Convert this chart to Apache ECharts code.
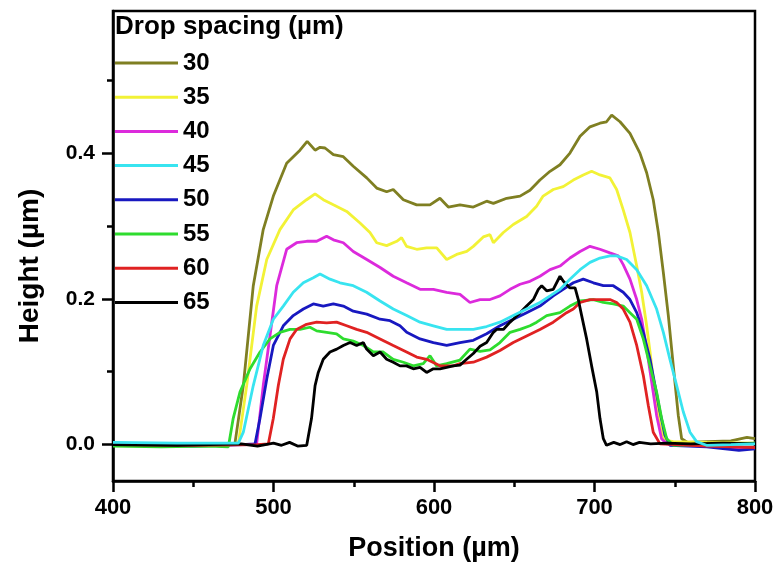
<!DOCTYPE html>
<html>
<head>
<meta charset="utf-8">
<script src="https://cdn.jsdelivr.net/npm/echarts@6/dist/echarts.min.js"></script>
<style>
html,body{margin:0;padding:0;background:#fff;}
#chart{width:777px;height:567px;}
</style>
</head>
<body>
<div id="chart"></div>
<script>
// ---- data (Position µm, Height µm) ----
const legendTitle = "Drop spacing (µm)";
const spacings = ["30", "35", "40", "45", "50", "55", "60", "65"];
const colors = ["#7f7f22", "#f2f236", "#dc2adc", "#38e4f0", "#1818c0", "#2edc2e", "#e02222", "#000000"];
const xTicks = [400, 500, 600, 700, 800];
const yMajorTicks = [0.0, 0.2, 0.4];
const yMinorTicks = [0.1, 0.3, 0.5];

const ds30 = [[400,0.002],[430,0.001],[460,0.0],[474,0.0],[476,0.002],[481.2,0.081],[487.4,0.218],[493.6,0.295],[499.9,0.341],[508.2,0.386],[516.5,0.404],[521,0.416],[525.9,0.404],[529,0.408],[532.1,0.407],[537.3,0.398],[543.5,0.395],[549.7,0.382],[558.1,0.366],[564.3,0.352],[570.5,0.347],[574.6,0.350],[580.9,0.336],[589.2,0.329],[597.5,0.329],[603.7,0.338],[608.9,0.326],[616.2,0.329],[624.5,0.326],[632.8,0.334],[637,0.331],[645.3,0.338],[653.6,0.341],[659.8,0.349],[666,0.363],[672.3,0.375],[678.5,0.384],[684.7,0.400],[691,0.423],[697.2,0.436],[703.4,0.441],[707.5,0.443],[710.7,0.452],[715.9,0.443],[722.1,0.427],[728.3,0.400],[732.5,0.373],[736.6,0.336],[739.8,0.291],[742.9,0.236],[746,0.177],[749.1,0.108],[752.2,0.040],[754.3,0.008],[758,0.003],[770,0.004],[785,0.005],[795,0.010],[800,0.008]];
const ds35 = [[400,0.001],[440,0.0],[470,0.001],[478.1,0.001],[483.3,0.081],[489.5,0.190],[495.8,0.254],[504,0.295],[512.3,0.322],[520.6,0.336],[525.9,0.344],[531,0.336],[537.3,0.329],[545.6,0.320],[553.9,0.304],[560.1,0.291],[564.3,0.277],[570.5,0.273],[576.8,0.279],[579.8,0.284],[582.9,0.272],[589.2,0.268],[595.4,0.270],[601.7,0.270],[607.9,0.254],[614.1,0.261],[620.4,0.265],[624.5,0.272],[630.7,0.285],[634.9,0.288],[637,0.277],[643.2,0.291],[649.4,0.302],[657.7,0.313],[663.9,0.327],[668,0.341],[674.3,0.350],[680.5,0.354],[686.8,0.363],[693,0.370],[698.2,0.375],[703.4,0.370],[709.6,0.366],[713.8,0.350],[717.9,0.322],[722.1,0.291],[726.3,0.245],[729.4,0.209],[732.5,0.163],[734.6,0.127],[736.6,0.090],[738.7,0.054],[740.8,0.026],[743.9,0.006],[749,0.004],[770,0.003],[800,0.002]];
const ds40 = [[400,0.0],[450,-0.001],[485,0.0],[489.5,0.001],[493.6,0.081],[497.8,0.149],[502,0.218],[508.2,0.268],[514.4,0.277],[520.7,0.279],[526.9,0.279],[533.1,0.286],[537.3,0.281],[543.5,0.277],[549.7,0.265],[558.1,0.254],[566.4,0.243],[574.6,0.231],[582.9,0.222],[591.3,0.213],[599.6,0.213],[607.9,0.209],[616.2,0.206],[622.4,0.195],[628.7,0.199],[634.9,0.199],[641.1,0.204],[647.4,0.213],[653.6,0.220],[659.8,0.224],[666,0.231],[672.3,0.240],[678.5,0.245],[684.7,0.256],[691,0.265],[697.2,0.272],[703.4,0.268],[709.6,0.263],[714.8,0.259],[717.9,0.247],[722.1,0.227],[726.3,0.199],[729.4,0.172],[732.5,0.131],[735.6,0.086],[738.7,0.040],[741.8,0.008],[745,0.001],[770,-0.002],[790,-0.006],[800,-0.005]];
const ds45 = [[400,0.003],[440,0.002],[470,0.002],[478.1,0.002],[481.2,0.017],[487.4,0.081],[493.6,0.136],[499.9,0.172],[506.1,0.190],[512.3,0.209],[518.6,0.222],[524.8,0.229],[529,0.234],[535.2,0.227],[541.4,0.222],[549.7,0.218],[558,0.209],[566.4,0.197],[574.6,0.186],[583,0.177],[591.3,0.168],[599.6,0.163],[607.9,0.158],[616.2,0.158],[624.5,0.158],[632.8,0.162],[641.1,0.168],[649.4,0.177],[657.7,0.186],[666,0.195],[672.3,0.204],[678.5,0.213],[684.7,0.227],[691,0.240],[697.2,0.250],[703.4,0.256],[709.6,0.259],[713.8,0.259],[720,0.254],[726.3,0.240],[732.5,0.218],[738.7,0.186],[742.9,0.154],[747,0.117],[751.2,0.081],[755.3,0.045],[759.5,0.017],[763.6,0.004],[769.8,-0.001],[785,0.0],[800,0.001]];
const ds50 = [[400,0.0],[450,-0.002],[480,0.0],[488.5,0.001],[491.6,0.036],[495.8,0.090],[499.9,0.136],[506.1,0.163],[512.3,0.177],[518.6,0.186],[524.8,0.193],[531,0.190],[537.3,0.193],[543.5,0.190],[549.7,0.183],[558.1,0.179],[566.4,0.172],[572.6,0.170],[578.8,0.163],[583,0.154],[591.3,0.145],[599.6,0.140],[607.9,0.136],[616.2,0.140],[624.5,0.143],[632.8,0.152],[641.1,0.163],[649.4,0.172],[657.7,0.181],[666,0.190],[674.3,0.204],[680.5,0.213],[686.8,0.222],[693,0.227],[699.3,0.222],[705.5,0.218],[711.7,0.218],[717.9,0.209],[722.1,0.199],[726.3,0.181],[730.4,0.154],[734.6,0.117],[737.7,0.081],[740.8,0.045],[743.9,0.013],[747,-0.001],[770,-0.003],[790,-0.008],[800,-0.006]];
const ds55 = [[400,-0.002],[430,-0.003],[460,-0.002],[471.9,-0.003],[474.9,0.036],[479.1,0.072],[485.4,0.104],[491.6,0.127],[497.8,0.145],[504,0.154],[510.3,0.158],[516.5,0.158],[522.7,0.161],[526.9,0.156],[533.1,0.154],[539.3,0.152],[543.5,0.145],[549.7,0.142],[556,0.136],[562.2,0.127],[568.4,0.127],[574.6,0.117],[580.9,0.113],[587.1,0.108],[593.3,0.111],[597.5,0.122],[601.6,0.108],[607.9,0.111],[616.2,0.116],[622.4,0.131],[628.7,0.128],[634.9,0.130],[641.1,0.140],[647.4,0.154],[653.6,0.158],[659.8,0.163],[664,0.168],[670.2,0.177],[678.5,0.181],[684.7,0.190],[691,0.197],[699.3,0.199],[705.5,0.195],[711.7,0.193],[717.9,0.190],[722.1,0.181],[726.3,0.172],[730.4,0.145],[734.6,0.108],[738.7,0.072],[741.8,0.036],[745,0.008],[749,-0.001],[770,0.0],[800,0.002]];
const ds60 = [[400,0.0],[450,-0.001],[490,0.0],[496.8,0.001],[499.9,0.036],[503,0.081],[506.1,0.117],[510.3,0.145],[514.4,0.158],[520.6,0.165],[526.9,0.168],[533.1,0.167],[539.3,0.168],[545.6,0.163],[551.8,0.158],[558,0.154],[566.4,0.145],[574.6,0.136],[582.9,0.127],[589.2,0.120],[595.4,0.117],[603.7,0.108],[612,0.108],[616.2,0.111],[624.5,0.113],[632.8,0.120],[641.1,0.129],[649.4,0.140],[657.7,0.149],[666,0.158],[674.3,0.168],[682.6,0.181],[686.8,0.186],[691,0.195],[697.2,0.199],[703.4,0.199],[709.6,0.199],[713.8,0.195],[717.9,0.186],[722.1,0.168],[726.3,0.136],[730.4,0.095],[733.5,0.054],[736.6,0.017],[740.8,0.001],[770,-0.002],[800,-0.004]];
const ds65 = [[400,0.0],[440,-0.001],[480,0.001],[490,-0.002],[500,0.002],[505,-0.001],[510,0.003],[515,-0.002],[520.7,-0.001],[523.7,0.036],[525.9,0.081],[527.9,0.099],[531,0.117],[535.2,0.127],[539.4,0.131],[543.5,0.136],[547.7,0.140],[551.8,0.136],[556,0.140],[558,0.131],[562.2,0.122],[566.4,0.127],[570.5,0.117],[574.6,0.113],[578.8,0.108],[582.9,0.108],[587.1,0.104],[591.3,0.106],[595.4,0.099],[599.6,0.104],[603.7,0.104],[607.9,0.106],[612,0.108],[616.2,0.109],[620.3,0.117],[624.5,0.125],[628.7,0.135],[632.8,0.140],[637,0.154],[639,0.158],[643.2,0.158],[647.4,0.168],[649.4,0.172],[653.6,0.181],[657.7,0.190],[661.9,0.199],[665,0.213],[667.1,0.218],[670.2,0.211],[674.3,0.213],[678.5,0.231],[680.6,0.224],[684.7,0.215],[687.9,0.215],[689.9,0.199],[692,0.177],[695.1,0.145],[698.2,0.108],[701.4,0.072],[703.4,0.036],[705.5,0.008],[707.5,-0.001],[712,0.003],[716,0.0],[720,0.004],[724,0.0],[728,0.003],[735,0.001],[745,0.002],[760,0.001],[780,0.002],[800,0.001]];

const seriesData = [ds30, ds35, ds40, ds45, ds50, ds55, ds60, ds65];

const FONT = '"Liberation Sans", Arial, Helvetica, sans-serif';

const chart = echarts.init(document.getElementById('chart'), null, {renderer: 'canvas'});

const series = spacings.map((name, i) => ({
  name: name,
  type: 'line',
  data: seriesData[i],
  xAxisIndex: 0,
  yAxisIndex: 0,
  showSymbol: false,
  symbol: 'none',
  smooth: false,
  z: name === '45' ? 3 : 2,
  lineStyle: { color: colors[i], width: 2.8 },
  itemStyle: { color: colors[i] },
  emphasis: { disabled: true },
  animation: false
}));

const option = {
  animation: false,
  backgroundColor: '#ffffff',
  grid: {
    left: 113, right: 22, top: 11, bottom: 85,
    show: true, borderColor: '#000', borderWidth: 2.5, backgroundColor: 'transparent'
  },
  title: {
    text: legendTitle,
    left: 115, top: 14,
    padding: 0,
    textStyle: { fontFamily: FONT, fontWeight: 'bold', fontSize: 26, color: '#000' }
  },
  legend: {
    data: spacings,
    orient: 'vertical',
    left: 115, top: 51,
    padding: 0,
    icon: 'rect',
    itemWidth: 63, itemHeight: 3,
    itemGap: 10.2,
    selectedMode: false,
    textStyle: { fontFamily: FONT, fontWeight: 'bold', fontSize: 24, color: '#000', lineHeight: 24 }
  },
  xAxis: {
    type: 'value',
    min: xTicks[0], max: xTicks[xTicks.length - 1], interval: 100,
    name: 'Position (µm)',
    nameLocation: 'middle', nameGap: 54,
    nameTextStyle: { fontFamily: FONT, fontWeight: 'bold', fontSize: 27, color: '#000' },
    axisLine: { show: true, onZero: false, lineStyle: { color: '#000', width: 2.5 } },
    axisTick: { show: true, inside: false, length: 11, lineStyle: { color: '#000', width: 2.5 } },
    minorTick: { show: true, splitNumber: 2, length: 6, lineStyle: { color: '#000', width: 2.5 } },
    axisLabel: { margin: 16, fontFamily: FONT, fontWeight: 'bold', fontSize: 22, color: '#000' },
    splitLine: { show: false }
  },
  yAxis: [{
    type: 'value',
    min: -0.05, max: 0.595,
    axisLine: { show: true, onZero: false, lineStyle: { color: '#000', width: 2.5 } },
    axisTick: { show: true, inside: false, length: 11, customValues: yMajorTicks, lineStyle: { color: '#000', width: 2.5 } },
    axisLabel: { margin: 18, customValues: yMajorTicks, formatter: v => v.toFixed(1), fontFamily: FONT, fontWeight: 'bold', fontSize: 21, color: '#000' },
    splitLine: { show: false }
  }, {
    type: 'value',
    position: 'left',
    min: -0.05, max: 0.595,
    axisLine: { show: false },
    axisTick: { show: true, inside: false, length: 6, customValues: yMinorTicks, lineStyle: { color: '#000', width: 2.5 } },
    axisLabel: { show: false },
    splitLine: { show: false }
  }],
  graphic: [{
    type: 'text',
    x: 30, y: 266,
    rotation: Math.PI / 2,
    style: {
      text: 'Height (µm)',
      fill: '#000',
      font: 'bold 28px ' + FONT,
      align: 'center',
      verticalAlign: 'middle'
    }
  }],
  series: series
};

chart.setOption(option);
</script>
</body>
</html>
